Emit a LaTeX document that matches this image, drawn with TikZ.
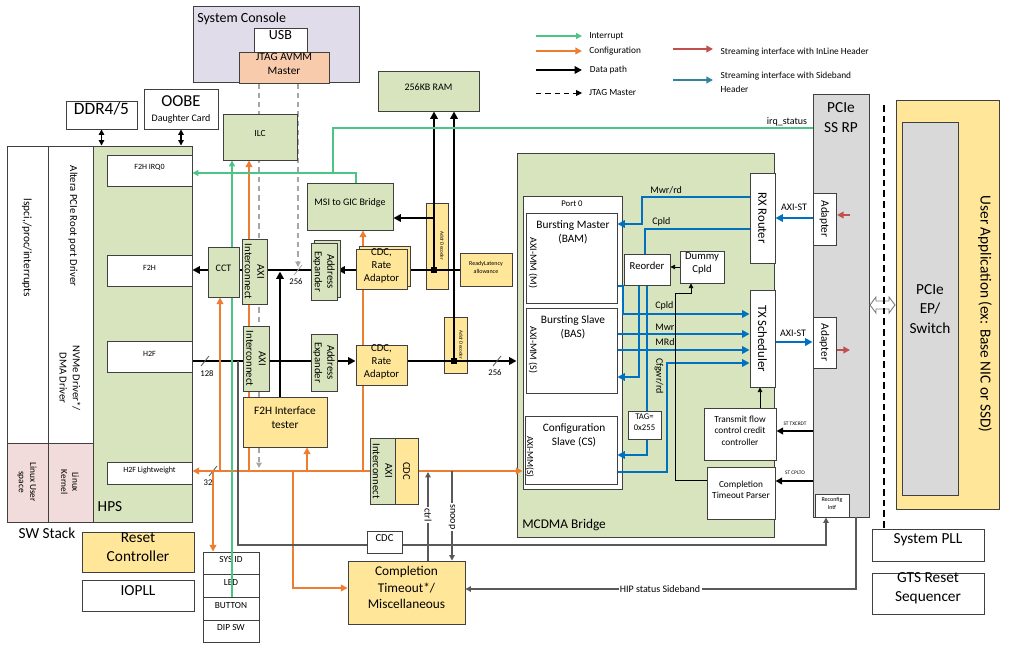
\documentclass[tikz,border=0pt]{standalone}
\usepackage{fontspec}
\setmainfont{Carlito}
\usetikzlibrary{arrows.meta,fit}
\definecolor{gfill}{HTML}{D7E4BD}
\definecolor{ofill}{HTML}{FFE699}
\definecolor{jfill}{HTML}{F8CBAD}
\definecolor{lavfill}{HTML}{E1DCE9}
\definecolor{pinkfill}{HTML}{F2DCDB}
\definecolor{grayfill}{HTML}{D9D9D9}
\definecolor{bd}{HTML}{404040}
\definecolor{orl}{HTML}{ED7D31}
\definecolor{grl}{HTML}{4CC483}
\definecolor{blu}{HTML}{0070C0}
\definecolor{redl}{HTML}{C0504D}
\definecolor{teall}{HTML}{31849B}
\definecolor{sigl}{HTML}{595959}
\definecolor{jtl}{HTML}{A6A6A6}
\pgfdeclarelayer{back}
\pgfdeclarelayer{wires}
\pgfsetlayers{back,wires,main}
\newcommand\fs[2]{\fontsize{#1}{#2}\selectfont}
% \blk{style}{name}{x1}{y1}{x2}{y2}{text}
\newcommand\blk[7]{\node[#1,fit={(#3,#4)(#5,#6)}] (#2) {#7};}
\begin{document}
\begin{tikzpicture}[x=0.75pt,y=-0.75pt,
  box/.style={draw=bd,line width=0.7pt,inner sep=0pt,align=center},
  gb/.style={box,fill=gfill},
  ob/.style={box,fill=ofill},
  wb/.style={box,fill=white},
  rot/.style={rotate=-90,align=center,inner sep=0pt},
  tip/.style={-{Triangle[length=#1,width=#1]}},
  tip/.default=5pt,
  dat/.style={draw=black,line width=1.8pt,tip=5.5pt},
  datn/.style={draw=black,line width=1.8pt},
  cfg/.style={draw=orl,line width=1.2pt,tip=5pt},
  cfgn/.style={draw=orl,line width=1.2pt},
  irq/.style={draw=grl,line width=0.9pt,tip=4.5pt},
  irqn/.style={draw=grl,line width=0.9pt},
  bl/.style={draw=blu,line width=1.8pt,tip=5.5pt},
  bln/.style={draw=blu,line width=1.8pt},
  tarr/.style={draw=black,line width=0.6pt,tip=3.5pt},
  sig/.style={draw=sigl,line width=0.9pt},
  jt/.style={draw=jtl,line width=0.9pt,dash pattern=on 4pt off 3pt},
  slash/.style={draw=sigl,line width=0.6pt},
  lbl/.style={inner sep=0.5pt},
]
\useasboundingbox (0,0) rectangle (1016,648);

% ---------- containers ----------
\begin{pgfonlayer}{back}
  \blk{box,fill=lavfill}{syscon}{193}{6}{359}{82}{}
  \blk{wb}{swa}{7}{146}{48}{443}{}
  \blk{wb}{swb}{48}{146}{93}{443}{}
  \blk{box,fill=pinkfill}{swc}{7}{443}{48}{522}{}
  \blk{box,fill=pinkfill}{swd}{48}{443}{93}{522}{}
  \blk{gb}{hps}{93}{146}{192}{522}{}
  \blk{gb}{mcdma}{517}{153}{774}{537}{}
  \blk{wb}{port0}{523}{196}{622}{489}{}
  \blk{box,fill=grayfill}{pcie}{813}{94}{869}{517}{}
  \blk{box,fill=ofill}{uapp}{896}{100}{999}{509}{}
  \blk{box,fill=grayfill}{ep}{902}{122}{958}{495}{}
  \blk{ob}{dec1}{426}{203}{448}{289}{}
  \blk{ob}{dec2}{444}{317}{467}{373}{}
  \blk{wb,font=\fs{7}{8.5}}{sysid}{203}{552}{259}{574}{SYS ID}
  \blk{wb,font=\fs{7}{8.5}}{led}{203}{574}{259}{597}{LED}
  \blk{wb,font=\fs{7}{8.5}}{button}{203}{597}{259}{620}{BUTTON}
  \blk{wb,font=\fs{7}{8.5}}{dipsw}{203}{620}{259}{642}{DIP SW}
\end{pgfonlayer}

% ---------- blocks ----------
\node[font=\fs{10.5}{12},anchor=west,inner sep=0pt] at (197,19) {System Console};
\blk{wb,font=\fs{10.5}{12}}{usb}{254}{28}{307}{52}{USB}
\blk{box,fill=jfill,font=\fs{8.5}{11}}{jtag}{239}{52}{329}{83}{JTAG AVMM\\Master}
\blk{wb,font=\fs{13}{15}}{ddr}{66}{101}{137}{129}{DDR4/5}
\blk{wb}{oobe}{144}{89}{218}{129}{}
\node[font=\fs{12.5}{14},inner sep=0pt] at (181,101) {OOBE};
\node[font=\fs{7.5}{9},inner sep=0pt] at (181,119) {Daughter Card};

\node[rot,font=\fs{8.5}{10}] at (27,248) {lspci,/proc/interrupts};
\node[rot,font=\fs{8}{9.5}] at (73,226) {Altera PCIe Root port Driver};
\node[rot,font=\fs{8}{10}] at (70,378) {NVMe Driver*/\\DMA Driver};
\node[rot,font=\fs{7}{8.5}] at (27,482) {Linux User\\space};
\node[rot,font=\fs{7}{8.5}] at (70,482) {Linux\\Kernel};
\node[font=\fs{11.5}{13},inner sep=0pt] at (110,507) {HPS};
\node[font=\fs{11.5}{13},inner sep=0pt] at (47,533) {SW Stack};

\blk{wb,font=\fs{6}{7}}{f2hirq}{107}{155}{192}{186}{F2H IRQ0}
\blk{wb,font=\fs{6}{7}}{f2h}{107}{255}{192}{286}{F2H}
\blk{wb,font=\fs{6}{7}}{h2f}{107}{341}{192}{372}{H2F}
\blk{wb,font=\fs{6}{7}}{h2flw}{107}{462}{192}{484}{H2F Lightweight}

\blk{gb,font=\fs{7}{8.5}}{ilc}{223}{114}{297}{160}{ILC}
\blk{gb,font=\fs{7.5}{9}}{ram}{378}{71}{479}{111}{256KB RAM}
\blk{gb,font=\fs{7.5}{9}}{msi}{307}{183}{393}{230}{MSI to GIC Bridge}
\blk{gb,font=\fs{7.5}{9}}{cct}{208}{247}{239}{297}{CCT}
\blk{gb}{axi1}{242}{239}{267}{304}{}
\node[rot,font=\fs{8}{9.5}] at (axi1) {AXI\\Interconnect};
\blk{gb}{axi2}{243}{326}{269}{391}{}
\node[rot,font=\fs{8}{9.5}] at (axi2) {AXI\\Interconnect};
\node[gb,fit={(314,240)(340,297)}] {};
\blk{gb}{ae1}{311}{243}{337}{300}{}
\node[rot,font=\fs{8}{9.5}] at (ae1) {Address\\Expander};
\blk{gb}{ae2}{311}{334}{337}{391}{}
\node[rot,font=\fs{8}{9.5}] at (ae2) {Address\\Expander};
\node[ob,fit={(359,246)(410,286)}] {};
\blk{ob,font=\fs{8}{9.75}}{cdc1}{356}{249}{407}{289}{CDC,\\Rate\\Adaptor}
\blk{ob,font=\fs{8}{9.75}}{cdc2}{356}{345}{407}{385}{CDC,\\Rate\\Adaptor}
\blk{ob,font=\fs{4.5}{6}}{ready}{460}{253}{512}{286}{ReadyLatency\\allowance}
\node[rot,font=\fs{3.8}{4.5}] at (442,246) {Addr Decoder};
\node[rot,font=\fs{3.8}{4.5}] at (461,345) {Addr Decoder};
\blk{ob,font=\fs{8.5}{10.5}}{tester}{243}{397}{327}{447}{F2H Interface\\tester}
\blk{gb}{axi3}{370}{438}{395}{504}{}
\node[rot,font=\fs{8}{9.5}] at (axi3) {AXI\\Interconnect};
\blk{ob}{cdc3}{395}{438}{418}{504}{}
\node[rot,font=\fs{8}{9.5}] at (cdc3) {CDC};
\blk{wb,font=\fs{8}{9.5}}{cdcs}{367}{531}{402}{553}{CDC}
\blk{ob,font=\fs{10}{12.4}}{comp}{348}{561}{465}{624}{Completion\\Timeout*/\\Miscellaneous}
\blk{ob,font=\fs{11.5}{14}}{reset}{82}{532}{194}{572}{Reset\\Controller}
\blk{wb,font=\fs{11.5}{14}}{iopll}{82}{580}{194}{611}{IOPLL}

% MCDMA bridge contents
\node[font=\fs{10}{12},anchor=west,inner sep=0pt] at (522,525) {MCDMA Bridge};
\node[font=\fs{6.5}{8},inner sep=0pt] at (572,204) {Port 0};
\blk{wb}{bam}{526}{213}{617}{303}{}
\node[font=\fs{8.5}{10.5},align=center,inner sep=0pt] at (573,232) {Bursting Master\\(BAM)};
\node[rot,font=\fs{7.5}{9}] at (533,263) {AXI-MM (M)};
\blk{wb}{bas}{526}{308}{617}{393}{}
\node[font=\fs{8.5}{10.5},align=center,inner sep=0pt] at (573,327) {Bursting Slave\\(BAS)};
\node[rot,font=\fs{7.5}{9}] at (533,350) {AXI-MM (S)};
\blk{wb}{cs}{525}{416}{617}{484}{}
\node[font=\fs{8.5}{10.5},align=center,inner sep=0pt] at (574,435) {Configuration\\Slave (CS)};
\node[rot,font=\fs{7}{8.5}] at (530,457) {AXI-MM(S)};
\blk{wb,font=\fs{8}{9.5}}{reorder}{624}{254}{670}{285}{Reorder}
\blk{wb,font=\fs{8}{9.5}}{dummy}{680}{251}{724}{283}{Dummy\\Cpld}
\blk{wb,font=\fs{6.5}{8}}{tag}{628}{411}{661}{439}{TAG=\\0x255}
\blk{wb}{rx}{750}{173}{775}{263}{}
\node[rot,font=\fs{9.5}{11}] at (rx) {RX Router};
\blk{wb}{tx}{750}{290}{775}{387}{}
\node[rot,font=\fs{9.5}{11}] at (tx) {TX Scheduler};
\blk{wb,font=\fs{7}{8.5}}{tfc}{704}{408}{776}{460}{Transmit flow\\control credit\\controller}
\blk{wb,font=\fs{7}{8.5}}{ctp}{707}{467}{775}{519}{Completion\\Timeout Parser}

% PCIe subsystem and user side
\node[font=\fs{11.5}{15},align=center,inner sep=0pt] at (841,118) {PCIe\\SS RP};
\blk{wb}{ad1}{813}{193}{836}{245}{}
\node[rot,font=\fs{8.5}{10}] at (ad1) {Adapter};
\blk{wb}{ad2}{813}{317}{836}{368}{}
\node[rot,font=\fs{8.5}{10}] at (ad2) {Adapter};
\blk{wb,font=\fs{4.5}{6}}{recfg}{815}{494}{849}{517}{Reconfig\\Intf}
\node[font=\fs{11.5}{14.6},align=center,inner sep=0pt] at (930,309) {PCIe\\EP/\\Switch};
\node[rot,font=\fs{11.5}{13}] at (985,314) {User Application (ex: Base NIC or SSD)};
\blk{wb,font=\fs{11.5}{14}}{spll}{872}{529}{984}{561}{System PLL}
\blk{wb,font=\fs{11.5}{14}}{gts}{872}{573}{984}{614}{GTS Reset\\Sequencer}

% junctions on the data paths
\node[fill=black,inner sep=0pt,minimum size=4pt] (j1) at (434,270) {};
\node[fill=black,inner sep=0pt,minimum size=4pt] (j2) at (454,361) {};

% ---------- connectors ----------
\begin{pgfonlayer}{wires}
  \coordinate (up) at (0,270);
  \coordinate (lo) at (0,361);
  \coordinate (bus) at (0,471);

  % memory / peripheral links
  \draw[{Triangle[length=4pt,width=4pt]}-{Triangle[length=4pt,width=4pt]},line width=1.2pt] (ddr.south) -- (ddr.south |- hps.north);
  \draw[{Triangle[length=4pt,width=4pt]}-{Triangle[length=4pt,width=4pt]},line width=1.2pt] (oobe.south) -- (oobe.south |- hps.north);

  % JTAG master
  \draw[jt,tip=4pt] (jtag.south -| 259,0) -- (259,468);
  \draw[jt,tip=4pt] (jtag.south -| 298,0) -- (298,267);

  % F2H data path
  \draw[dat] (cct.west |- up) -- (f2h.east |- up);
  \draw[datn] (axi1.west |- up) -- (cct.east |- up);
  \draw[datn] (ae1.west |- up) -- (axi1.east |- up);
  \draw[dat] (cdc1.west |- up) -- (ae1.east |- up);
  \draw[datn] (ready.west |- up) -- (cdc1.east |- up);
  \draw[dat] (j1) -- (j1 |- ram.south);
  \draw[dat] (j1 |- 0,218) -- (msi.east |- 0,218);
  \draw[dat] (tester.north -| 280,0) -- (280,271.5);

  % H2F data path
  \draw[datn] (h2f.east |- lo) -- (ae2.west |- lo);
  \draw[dat] (ae2.east |- lo) -- (cdc2.west |- lo);
  \draw[dat] (cdc2.east |- lo) -- (mcdma.west |- lo);
  \draw[dat] (j2) -- (j2 |- ram.south);

  % bus widths
  \draw[slash] (201,366) -- (209,356);
  \draw[slash] (493,366) -- (501,356);
  \draw[slash,draw=jtl] (294,275) -- (302,265);
  \draw[slash] (209,476) -- (217,466);

  % configuration (H2F lightweight)
  \draw[cfg] (axi3.west |- bus) -- (h2flw.east |- bus);
  \draw[cfg] (cdc3.east |- bus) -- (port0.west |- bus);
  \draw[cfg] (213,471) -- (sysid.north -| 213,0);
  \draw[cfg] (220,471) -- (cct.south -| 220,0);
  \draw[cfg] (249,471) -- (ilc.south -| 249,0);
  \draw[cfg] (307,471) -- (tester.south -| 307,0);
  \draw[cfg] (363,471) -- (msi.south -| 363,0);
  \draw[cfg] (293,471) |- (comp.west |- 0,588);

  % interrupts
  \draw[irq] (led.south -| 232,0) -- (ilc.south -| 232,0);
  \draw[irq] (msi.north -| 356,0) |- (f2hirq.east |- 0,173);
  \draw[irqn] (pcie.west |- 0,128) -| (333,173);

  % status and control
  \draw[sig,tip=4pt] (238,361) |- (826,545) -- (recfg.south -| 826,0);
  \draw[sig,tip=4pt] (pcie.south -| 856,0) |- (comp.east |- 0,589);
  \draw[sig,tip=4pt] (comp.north -| 428,0) -- (428,472);
  \draw[sig,tip=4pt] (452,471) -- (comp.north -| 452,0);

  % MCDMA internal streams
  \draw[bl] (rx.west |- 0,197) -| (642,224) -- (bam.east |- 0,224);
  \draw[bln] (rx.west |- 0,229) -| (reorder.north -| 645,0);
  \draw[bl] (reorder.south -| 639,0) |- (bas.east |- 0,377);
  \draw[bln] (reorder.south -| 647,0) -- (tag.north -| 647,0);
  \draw[bl] (tag.south -| 647,0) |- (cs.east |- 0,455);
  \draw[bl] (bam.east |- 0,286) -| (623,314) -- (tx.west |- 0,314);
  \draw[bl] (bas.east |- 0,334) -- (tx.west |- 0,334);
  \draw[bl] (bas.east |- 0,350) -- (tx.west |- 0,350);
  \draw[bl] (cs.east |- 0,472) -| (667,363) -- (tx.west |- 0,363);
  \draw[bl] (ad1.west |- 0,218) -- (rx.east |- 0,218);
  \draw[bl] (tx.east |- 0,342) -- (ad2.west |- 0,342);
  \draw[draw=redl,line width=1.6pt,tip=5pt] (850,215) -- (837,215);
  \draw[draw=redl,line width=1.6pt,tip=5pt] (837,350) -- (850,350);

  \draw[tarr] (dummy.west |- 0,267) -- (reorder.east |- 0,267);
  \draw[tarr] (ctp.west |- 0,480) -| (675,293) -| (dummy.south -| 691,0);
  \draw[tarr] (tfc.north -| 760,0) -- (tx.south -| 760,0);
  \draw[draw=black,line width=1.5pt,tip=5pt] (pcie.west |- 0,431) -- (tfc.east |- 0,431);
  \draw[draw=black,line width=1.5pt,tip=5pt] (pcie.west |- 0,481) -- (ctp.east |- 0,481);

  % link to the endpoint
  \draw[draw=gray,fill=white,line width=0.7pt] (870,305) -- (876,297) -- (876,301) -- (889,301) -- (889,297) -- (895,305) -- (889,313) -- (889,309) -- (876,309) -- (876,313) -- cycle;
  \draw[line width=0.8pt,dash pattern=on 5pt off 3pt] (884,105) -- (spll.north -| 884,0);
\end{pgfonlayer}

% ---------- connector labels ----------
\node[font=\fs{6.5}{8},inner sep=0pt] at (207,374) {128};
\node[font=\fs{6.5}{8},inner sep=0pt] at (296,282) {256};
\node[font=\fs{6.5}{8},inner sep=0pt] at (495,373) {256};
\node[font=\fs{6.5}{8},inner sep=0pt] at (208,483) {32};
\node[font=\fs{7.5}{9},anchor=south,inner sep=0.5pt] at (787,127) {irq\_status};
\node[rot,font=\fs{7.5}{9},fill=white,inner sep=1pt] at (428,515) {ctrl};
\node[rot,font=\fs{7.5}{9},fill=white,inner sep=1pt] at (452,517) {snoop};
\node[font=\fs{7.5}{9},fill=white,inner sep=1pt] at (660,589) {HIP status Sideband};
\node[font=\fs{7.5}{9},anchor=west,inner sep=0pt] at (650,190) {Mwr/rd};
\node[font=\fs{7.5}{9},anchor=west,inner sep=0pt] at (652,222) {Cpld};
\node[font=\fs{7.5}{9},anchor=west,inner sep=0pt] at (655,306) {Cpld};
\node[font=\fs{7.5}{9},anchor=west,inner sep=0pt] at (655,327) {Mwr};
\node[font=\fs{7.5}{9},anchor=west,inner sep=0pt] at (655,342) {MRd};
\node[rot,font=\fs{7.5}{9}] at (659,376) {Cfgwr/rd};
\node[font=\fs{7.5}{9},inner sep=0pt] at (794,207) {AXI-ST};
\node[font=\fs{7.5}{9},inner sep=0pt] at (793,333) {AXI-ST};
\node[font=\fs{4}{5},inner sep=0pt] at (795,424) {ST TXCRDT};
\node[font=\fs{4}{5},inner sep=0pt] at (795,473) {ST CPLTO};

% ---------- legend ----------
\coordinate (lg1) at (536,36);
\coordinate (lg2) at (536,51);
\coordinate (lg3) at (536,70);
\coordinate (lg4) at (536,93);
\coordinate (lg5) at (673,49);
\coordinate (lg6) at (673,80);
\draw[irq] (lg1) -- ++(46,0) node[right=5pt,black,font=\fs{7}{8.5},inner sep=0pt] {Interrupt};
\draw[cfg] (lg2) -- ++(46,0) node[right=5pt,black,font=\fs{7}{8.5},inner sep=0pt] {Configuration};
\draw[dat] (lg3) -- ++(46,0) node[right=5pt,black,font=\fs{7}{8.5},inner sep=0pt] {Data path};
\draw[draw=black,line width=0.7pt,dash pattern=on 4pt off 3pt,tip=4.5pt] (lg4) -- ++(46,0) node[right=5pt,black,font=\fs{7}{8.5},inner sep=0pt] {JTAG Master};
\draw[draw=redl,line width=1.5pt,tip=5pt] (lg5) -- ++(40,0) node[right=5pt,black,font=\fs{7}{8.5},inner sep=0pt,yshift=-2pt] {Streaming interface with InLine Header};
\draw[draw=teall,line width=1.5pt,tip=5pt] (lg6) -- ++(40,0) node[right=5pt,black,font=\fs{7}{10.5},inner sep=0pt,align=left,yshift=-1.5pt] {Streaming interface with Sideband\\Header};
\end{tikzpicture}
\end{document}
